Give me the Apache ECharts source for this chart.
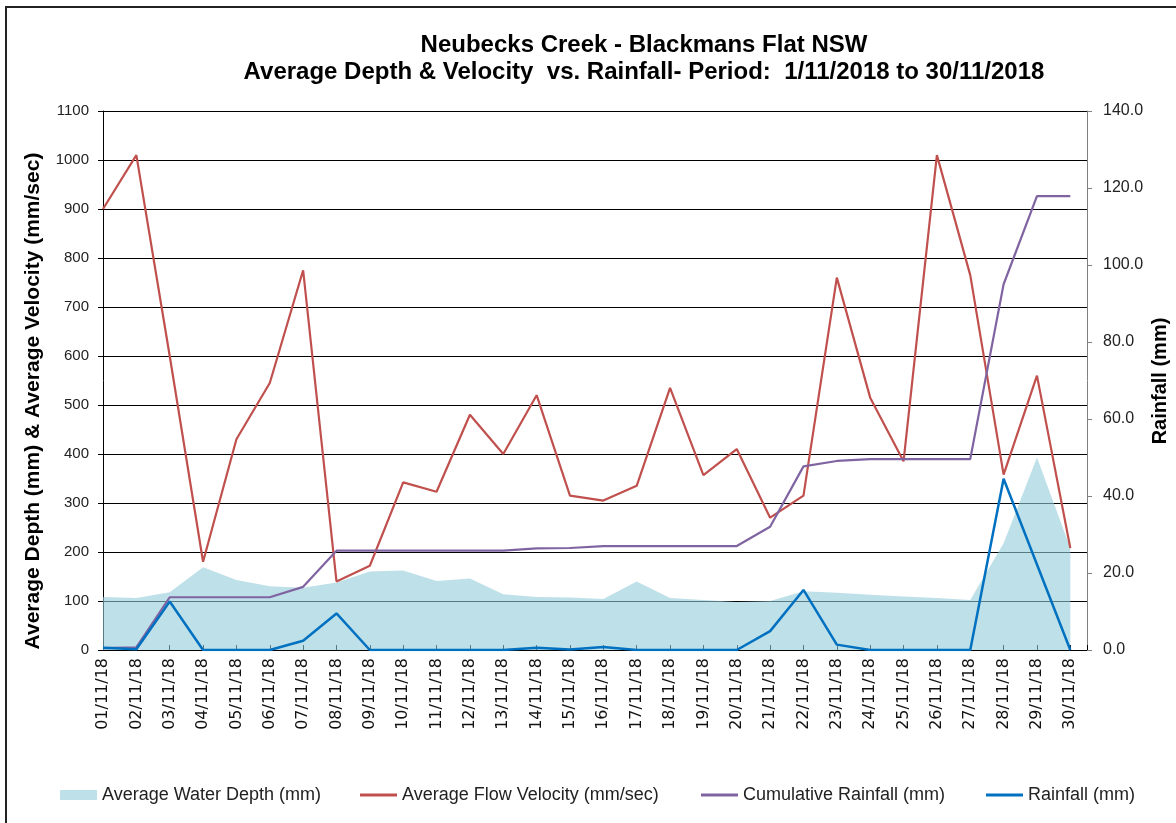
<!DOCTYPE html>
<html>
<head>
<meta charset="utf-8">
<script src="https://cdn.jsdelivr.net/npm/echarts@6/dist/echarts.min.js"></script>
<style>
  html, body { margin: 0; padding: 0; background: #fff; }
  #chart { width: 1176px; height: 823px; }
</style>
</head>
<body>
<div id="chart"></div>
<script>
// ---- Data ----
const categories = ['01/11/18','02/11/18','03/11/18','04/11/18','05/11/18','06/11/18','07/11/18','08/11/18','09/11/18','10/11/18',
  '11/11/18','12/11/18','13/11/18','14/11/18','15/11/18','16/11/18','17/11/18','18/11/18','19/11/18','20/11/18',
  '21/11/18','22/11/18','23/11/18','24/11/18','25/11/18','26/11/18','27/11/18','28/11/18','29/11/18','30/11/18'];
const waterDepth = [108,106,118,169,143,130,127,138,160,162,141,146,114,108,107,104,140,106,102,98,100,120,117,113,109,106,102,218,393,208];
const flowVelocity = [900,1010,600,180,430,545,775,140,172,342,323,480,400,520,315,305,335,535,357,410,270,315,760,515,385,1010,765,358,560,208];
const cumulativeRainfall = [0.5,0.7,13.7,13.7,13.7,13.7,16.4,25.8,25.8,25.8,25.8,25.8,25.8,26.4,26.5,27.0,27.0,27.0,27.0,27.0,32.0,47.7,49.1,49.6,49.6,49.6,49.6,95.0,117.9,117.9];
const rainfall = [0.6,0.2,12.6,0,0,0,2.4,9.5,0,0,0,0,0,0.6,0.1,0.8,0,0,0,0,4.9,15.6,1.4,0,0,0,0,44.5,22.2,0];
const leftTicks = { min: 0, max: 1100, interval: 100 };
const rightTicks = { min: 0, max: 140, interval: 20 };
const seriesNames = ['Average Water Depth (mm)','Average Flow Velocity (mm/sec)','Cumulative Rainfall (mm)','Rainfall (mm)'];
const titleLines = ['Neubecks Creek - Blackmans Flat NSW','Average Depth & Velocity  vs. Rainfall- Period:  1/11/2018 to 30/11/2018'];

const pairs = arr => arr.map((v, i) => [i, v]);
const FONT = '"Liberation Sans", Arial, sans-serif';

const chart = echarts.init(document.getElementById('chart'), null, { renderer: 'canvas' });

const lineLegend = (name, left) => ({
  data: [name], left: left, top: 781, icon: 'rect', itemWidth: 37, itemHeight: 3,
  textStyle: { fontFamily: FONT, fontSize: 18, color: '#222' }, selectedMode: false
});

chart.setOption({
  animation: false,
  backgroundColor: '#fff',
  grid: { left: 103, right: 89, top: 111, bottom: 173, containLabel: false },
  legend: [
    { data: [seriesNames[0]], left: 55, top: 781, icon: 'rect', itemWidth: 37, itemHeight: 10,
      textStyle: { fontFamily: FONT, fontSize: 18, color: '#222' }, selectedMode: false },
    lineLegend(seriesNames[1], 355),
    lineLegend(seriesNames[2], 696),
    lineLegend(seriesNames[3], 981)
  ],
  xAxis: {
    type: 'value', min: 0, max: 29.5, interval: 1,
    axisLine: { lineStyle: { color: '#000', width: 1 } },
    axisTick: { inside: true, length: 5, lineStyle: { color: '#000' } },
    splitLine: { show: false },
    axisLabel: {
      rotate: 90, margin: 8, fontFamily: '"DejaVu Sans", sans-serif', fontSize: 16, color: '#111',
      formatter: v => (Number.isInteger(v) && categories[v]) ? categories[v] : ''
    }
  },
  yAxis: [
    {
      type: 'value', min: leftTicks.min, max: leftTicks.max, interval: leftTicks.interval,
      axisLine: { show: true, lineStyle: { color: '#000' } },
      axisTick: { show: true, length: 5, lineStyle: { color: '#000' } },
      splitLine: { show: true, lineStyle: { color: '#000', width: 1 } },
      axisLabel: { margin: 14, fontFamily: FONT, fontSize: 15, color: '#222', formatter: v => String(v) }
    },
    {
      type: 'value', min: rightTicks.min, max: rightTicks.max, interval: rightTicks.interval,
      position: 'right',
      axisLine: { show: true, lineStyle: { color: '#808080' } },
      axisTick: { show: true, length: 5, lineStyle: { color: '#808080' } },
      splitLine: { show: false },
      axisLabel: { margin: 16, fontFamily: FONT, fontSize: 16, color: '#222', formatter: v => v.toFixed(1) }
    }
  ],
  series: [
    { name: seriesNames[0], type: 'line', yAxisIndex: 0, data: pairs(waterDepth), showSymbol: false, symbol: 'none',
      lineStyle: { width: 0 }, itemStyle: { color: 'rgb(190,224,233)' },
      areaStyle: { color: 'rgba(147,203,217,0.6)', opacity: 1 }, z: 2 },
    { name: seriesNames[1], type: 'line', yAxisIndex: 0, data: pairs(flowVelocity), showSymbol: false, symbol: 'none',
      lineStyle: { color: '#C0504D', width: 2.2 }, itemStyle: { color: '#C0504D' }, z: 3 },
    { name: seriesNames[2], type: 'line', yAxisIndex: 1, data: pairs(cumulativeRainfall), showSymbol: false, symbol: 'none',
      lineStyle: { color: '#8064A2', width: 2.2 }, itemStyle: { color: '#8064A2' }, z: 4 },
    { name: seriesNames[3], type: 'line', yAxisIndex: 1, data: pairs(rainfall), showSymbol: false, symbol: 'none',
      lineStyle: { color: '#0070C0', width: 2.5 }, itemStyle: { color: '#0070C0' }, z: 5 }
  ],
  graphic: [
    { type: 'rect', shape: { x: 6, y: 7, width: 1200, height: 900 }, style: { fill: 'none', stroke: '#222', lineWidth: 2 }, silent: true },
    { type: 'text', x: 644, y: 45, style: { text: titleLines[0], textAlign: 'center', textVerticalAlign: 'middle',
      font: 'bold 24px ' + FONT, fill: '#000' } },
    { type: 'text', x: 644, y: 72, style: { text: titleLines[1], textAlign: 'center', textVerticalAlign: 'middle',
      font: 'bold 24px ' + FONT, fill: '#000' } },
    { type: 'text', x: 33, y: 401, rotation: Math.PI / 2, style: { text: 'Average Depth (mm) & Average Velocity (mm/sec)',
      textAlign: 'center', textVerticalAlign: 'middle', font: 'bold 21px ' + FONT, fill: '#000' } },
    { type: 'text', x: 1160, y: 381, rotation: Math.PI / 2, style: { text: 'Rainfall (mm)',
      textAlign: 'center', textVerticalAlign: 'middle', font: 'bold 20px ' + FONT, fill: '#000' } }
  ]
});
</script>
</body>
</html>
